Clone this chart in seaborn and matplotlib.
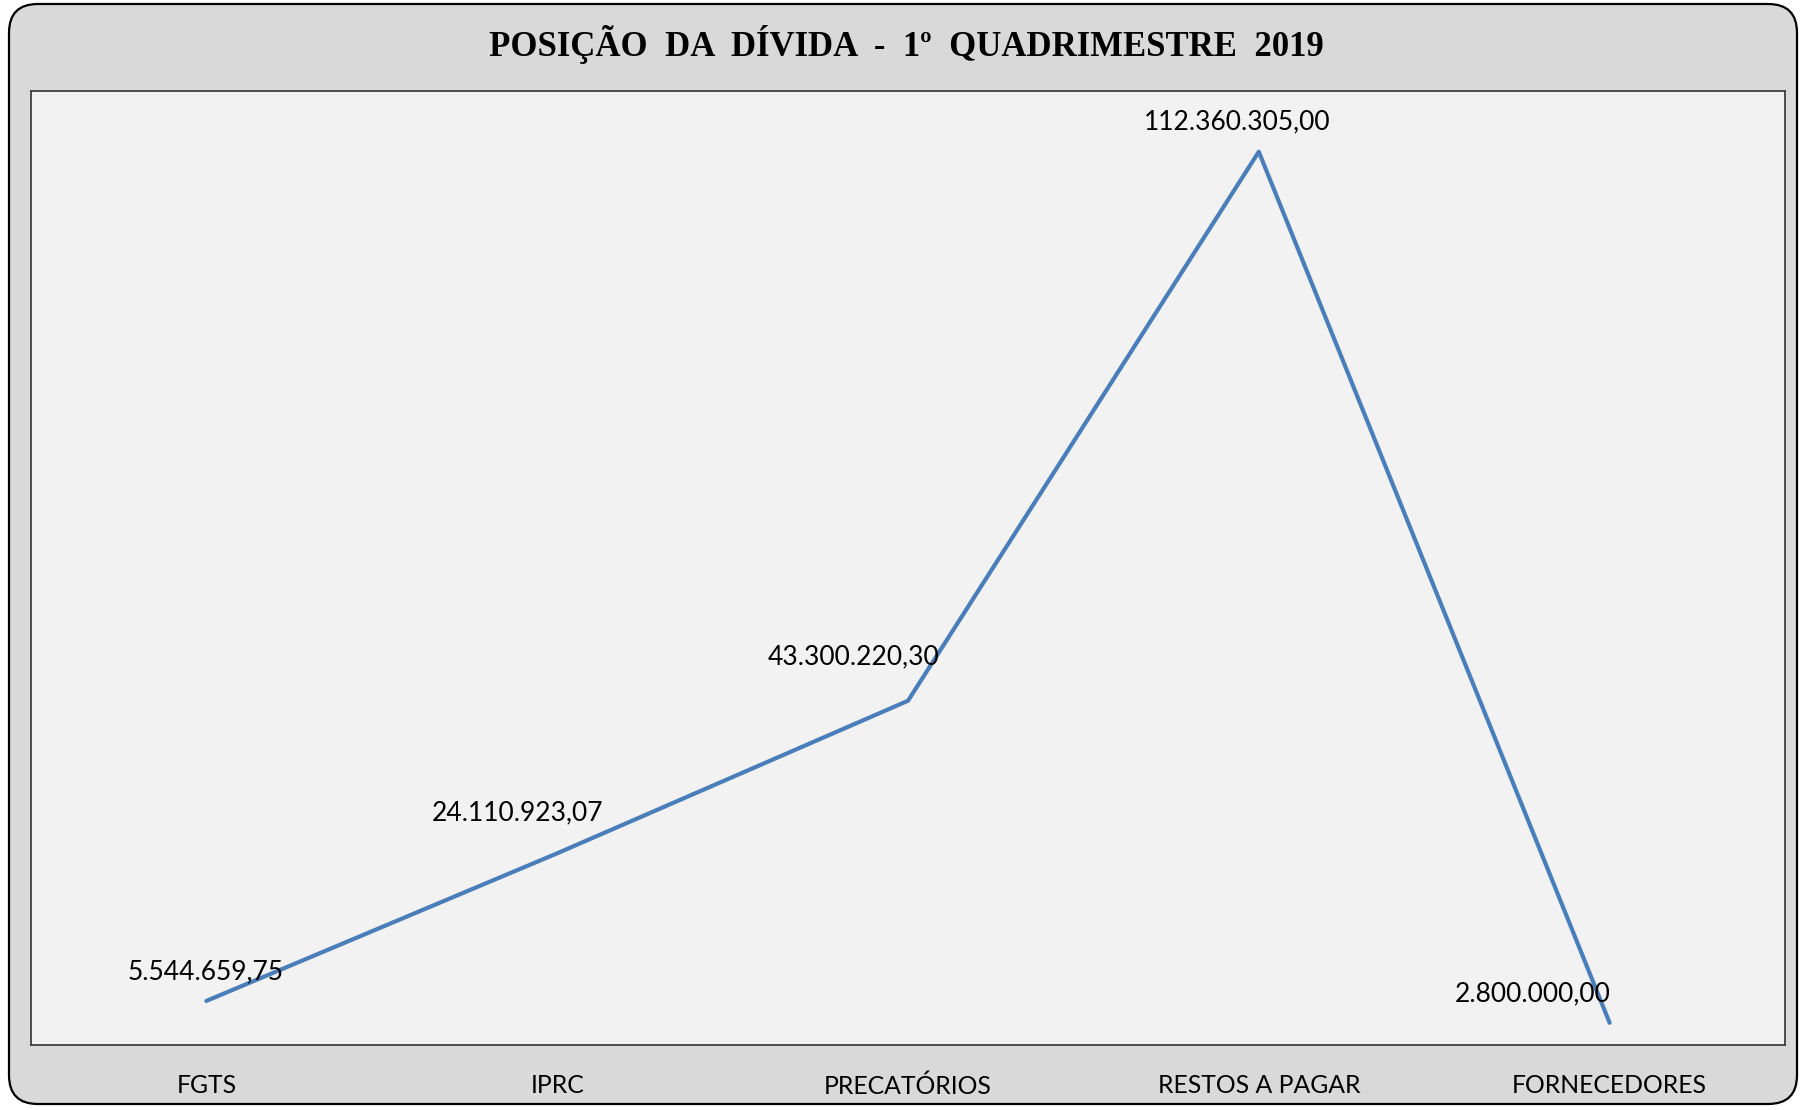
import matplotlib.pyplot as plt
import seaborn as sns
import pandas as pd
from matplotlib.patches import FancyBboxPatch

categorias = ["FGTS", "IPRC", "PRECATÓRIOS", "RESTOS A PAGAR", "FORNECEDORES"]
valores = [5544659.75, 24110923.07, 43300220.30, 112360305.00, 2800000.00]
rotulos = ["5.544.659,75", "24.110.923,07", "43.300.220,30", "112.360.305,00", "2.800.000,00"]

# label offsets in pixels (dx, dy) relative to each point
offsets = [(-1, 29), (-40, 41), (-54, 44), (-22, 30), (-77, 29)]

df = pd.DataFrame({"categoria": categorias, "valor": valores})

sns.set_theme(style="white")
plt.rcParams["font.family"] = ["Lato", "DejaVu Sans"]

fig = plt.figure(figsize=(18.02, 11.1), dpi=100)
fig.patch.set_facecolor("white")

# rounded outer frame
W, H = 1802, 1110
frame = FancyBboxPatch((9 / W, 6 / H), (1797 - 9) / W, (1106 - 6) / H,
                       boxstyle="round,pad=0,rounding_size=0.016",
                       transform=fig.transFigure, facecolor="#D9D9D9",
                       edgecolor="black", linewidth=1.6, zorder=-5,
                       mutation_aspect=W / H)
fig.patches.append(frame)

ax = fig.add_axes([31 / W, 1 - 1045 / H, (1785 - 31) / W, (1045 - 91) / H])
ax.set_zorder(2)
ax.set_facecolor("#F2F2F2")

sns.lineplot(data=df, x="categoria", y="valor", sort=False, ax=ax,
             color="#4A7EBB", linewidth=3)

ax.set_xlim(-0.5, 4.5)
ax.set_ylim(0, 120000000)
ax.set_yticks([])
ax.set_xlabel("")
ax.set_ylabel("")
ax.tick_params(axis="x", length=0, pad=21, labelsize=17.8, colors="black")

for s in ax.spines.values():
    s.set_color("#404040")
    s.set_linewidth(1.3)
    s.set_visible(True)

for i, (v, r) in enumerate(zip(valores, rotulos)):
    ax.annotate(r, (i, v), xytext=offsets[i], textcoords="offset pixels",
                ha="center", va="center", fontsize=19, color="black")

fig.text(906 / W, 1 - 44 / H, "POSIÇÃO  DA  DÍVIDA  -  1º  QUADRIMESTRE  2019",
         ha="center", va="center", fontsize=25, fontweight="bold", color="black",
         family=["Liberation Serif", "DejaVu Serif"])

fig.savefig("out.png", dpi=100)
